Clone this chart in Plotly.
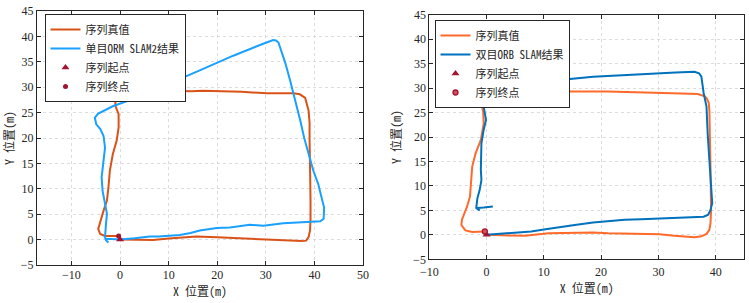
import plotly.graph_objects as go

# ---------------- data ----------------
# Left: ground truth
gt_l_x = [0, 3, 6.8, 10, 13, 15.7, 20, 23.3, 27, 30.2, 33, 35.7, 37.4, 38.3, 38.8, 39.1, 39.2, 39.2, 39.1, 39.1,
          39.0, 39.0, 38.8, 38.1, 37.0, 35.7, 33, 30.2, 25, 19.9, 17, 14.7, 12.3, 9.6, 6, 2.7, 0.0, -0.7,
          -1.0, -0.95, -0.3, -0.3, -0.7, -1.5, -2.1, -2.4, -2.7, -3.4, -4.1, -4.5, -4.1, -3.1, -2.0, -0.8, -0.3]
gt_l_y = [0, -0.05, -0.1, 0.2, 0.4, 0.6, 0.45, 0.3, 0.2, 0.1, 0.0, -0.2, -0.3, -0.2, 0.5, 1.8, 4, 7.7, 11, 14.2,
          19.5, 23, 25.4, 27.9, 28.6, 28.8, 28.8, 28.8, 29.1, 29.3, 29.3, 29.2, 29.3, 29.3, 29.3, 29.3, 29.3, 29.0,
          28.0, 26.3, 24.7, 22.1, 19.5, 16.8, 13.6, 10.3, 7.7, 5.7, 3.7, 2.1, 1.1, 0.7, 0.7, 0.7, 0.7]
# Left: monocular ORB SLAM2
mono_x = [-3.0, -1.5, 0, 3, 6.1, 8, 10.2, 12.3, 14.5, 16.4, 19.9, 22.6, 26.7, 29.5, 33.6, 36, 38.4, 40.3, 41.2,
          41.9, 42.0, 41.5, 40.8, 39.8, 38.8, 37.9, 37.1, 36.2, 35.0, 34.0, 32.9, 32.6, 32.1, 31.5, 28.8, 23.3,
          16.4, 12.3, 9.6, 5.4, 2.8, -1.4, -4.5, -5.2, -4.9, -4.1, -3.4, -3.1, -3.4, -3.8, -3.6, -3.1, -2.7,
          -2.9, -3.1, -2.9, -2.4]
mono_y = [0.15, 0.05, 0, 0.25, 0.6, 0.6, 0.8, 0.9, 1.3, 1.8, 2.3, 2.4, 2.9, 2.75, 3.2, 3.3, 3.4, 3.5, 3.6,
          4.1, 6.3, 8.2, 10.9, 13.5, 16.8, 20, 23.4, 27, 31.3, 34.8, 38.1, 38.8, 39.2, 39.3, 38.3, 36.2,
          33.3, 31.6, 30.6, 28.9, 27.7, 26.3, 24.8, 24.0, 22.7, 21.8, 20.4, 18.1, 14.9, 12.2, 9.6, 7.0, 5.1,
          3.1, 0.45, -0.1, -0.6]
# Right: ground truth
gt_r_x = [0, 3.8, 6.7, 10.8, 12.8, 15.4, 18.6, 21.2, 27, 30.2, 32.8, 36.3, 37.5, 38.4, 38.9, 39.1, 39.2, 39.2,
          39.1, 39.0, 39.0, 38.9, 38.8, 38.5, 38.1, 37.2, 36.9, 34, 30.2, 27, 21.2, 14.2, 8.4, 3.8, 0.4, -0.8,
          -1.0, -0.6, -0.5, -1.0, -1.9, -2.5, -2.7, -2.9, -3.4, -4.3, -4.4, -3.7, -2.5, -0.5, -0.3]
gt_r_y = [0, -0.1, -0.2, 0.3, 0.35, 0.5, 0.5, 0.3, 0.1, 0.1, -0.2, -0.5, -0.3, 0.2, 1.0, 2.4, 5, 8.5,
          13.9, 19.4, 22.1, 25.5, 26.9, 27.8, 28.3, 28.7, 28.8, 28.9, 29.0, 29.1, 29.3, 29.3, 29.3, 29.4, 29.3, 28.6,
          27.2, 25.2, 22.8, 19.4, 16.7, 14.0, 11.2, 7.8, 5.8, 3.1, 2.0, 0.9, 0.6, 0.6, 0.7]
# Right: stereo ORB SLAM
st_x = [0, 3.8, 7.8, 10, 12.6, 15.4, 18.6, 21, 24.1, 27, 30.1, 33, 35.8, 37.9, 38.7, 39.1, 39.4, 39.3, 39.2,
        38.9, 38.6, 38.4, 37.9, 37.6, 37.5, 37.1, 36.3, 33, 30.1, 25, 21.2, 18.6, 15, 12.6, 9, 6.7, 3, 0.5,
        -0.3, -1.2, -1.3, -0.9, -0.5, -0.1, -0.5, -0.9, -1.0, -1.0, -0.9, -1.2, -1.6, -1.8, -1.2, -1.6, -0.5, 1.1]
st_y = [0, 0.3, 0.7, 1.1, 1.6, 2.0, 2.5, 2.8, 3.1, 3.2, 3.35, 3.5, 3.7, 3.7, 4.1, 5.1, 6.5, 8, 9.9,
        15.3, 20.8, 26.2, 29, 31, 32.4, 33, 33.35, 33.2, 33, 32.8, 32.5, 32.3, 31.9, 31.6, 31.3, 31, 30.7, 30.5,
        30.4, 30.2, 29, 27.9, 26.2, 23.5, 21.5, 18.7, 16, 13.3, 11.2, 9.2, 7.5, 5.5, 5.0, 5.5, 5.6, 5.8]

start_pt = ([0], [0])
end_pt = ([-0.3], [0.7])

names_left = ["序列真值", "单目ORM SLAM2结果", "序列起点", "序列终点"]
names_right = ["序列真值", "双目ORB SLAM结果", "序列起点", "序列终点"]

# ---------------- figure ----------------
FONT = "Noto Sans Mono CJK SC, Noto Sans CJK SC, Liberation Mono, monospace"
TICKFONT = "Liberation Serif, serif"
MARK = "#A2142F"
INK = "#262626"

fig = go.Figure()
fig.add_trace(go.Scatter(x=gt_l_x, y=gt_l_y, mode="lines", name=names_left[0],
                         line=dict(color="#D95319", width=2), xaxis="x", yaxis="y", legend="legend"))
fig.add_trace(go.Scatter(x=mono_x, y=mono_y, mode="lines", name=names_left[1],
                         line=dict(color="#1AA0FF", width=2), xaxis="x", yaxis="y", legend="legend"))
fig.add_trace(go.Scatter(x=start_pt[0], y=start_pt[1], mode="markers", name=names_left[2],
                         marker=dict(symbol="triangle-up", color=MARK, size=7), xaxis="x", yaxis="y", legend="legend"))
fig.add_trace(go.Scatter(x=end_pt[0], y=end_pt[1], mode="markers", name=names_left[3],
                         marker=dict(symbol="circle", color=MARK, size=5), xaxis="x", yaxis="y", legend="legend"))

fig.add_trace(go.Scatter(x=gt_r_x, y=gt_r_y, mode="lines", name=names_right[0],
                         line=dict(color="#FF6A2A", width=2), xaxis="x2", yaxis="y2", legend="legend2"))
fig.add_trace(go.Scatter(x=st_x, y=st_y, mode="lines", name=names_right[1],
                         line=dict(color="#0072BD", width=2), xaxis="x2", yaxis="y2", legend="legend2"))
fig.add_trace(go.Scatter(x=start_pt[0], y=start_pt[1], mode="markers", name=names_right[2],
                         marker=dict(symbol="triangle-up", color=MARK, size=7), xaxis="x2", yaxis="y2", legend="legend2"))
fig.add_trace(go.Scatter(x=end_pt[0], y=end_pt[1], mode="markers", name=names_right[3],
                         marker=dict(symbol="circle", color="#D0505F", size=5, line=dict(color=MARK, width=1.3)),
                         xaxis="x2", yaxis="y2", legend="legend2"))

W, H = 749, 303

def ax(domain, rng, dtick, title, anchor, standoff, lblshift):
    return dict(domain=domain, range=rng, dtick=dtick, tick0=0, anchor=anchor, automargin=False,
                showline=True, linecolor=INK, linewidth=1, mirror="ticks",
                ticks="inside", ticklen=4, tickcolor=INK, ticklabelstandoff=lblshift,
                showgrid=True, gridcolor="#DCDCDC", griddash="dot", gridwidth=1,
                zeroline=False, tickfont=dict(family=TICKFONT, size=12, color=INK),
                title=dict(text=title, font=dict(family=FONT, size=12, color=INK), standoff=standoff))

fig.update_layout(
    width=W, height=H, margin=dict(l=0, r=0, t=0, b=0),
    paper_bgcolor="white", plot_bgcolor="white",
    xaxis=ax([37/W, 363/W], [-17.1, 50], 10, "X 位置(m)", "y", 2, -1),
    yaxis=ax([38/H, 292/H], [-5, 45], 5, "Y 位置(m)", "x", 6, 0),
    xaxis2=ax([429.3/W, 744.3/W], [-10, 45], 10, "X 位置(m)", "y2", 1, 1),
    yaxis2=ax([43.7/H, 288.3/H], [-5, 45], 5, "Y 位置(m)", "x2", 8, 0),
    legend=dict(x=44.5/W, y=1 - 14/H, xanchor="left", yanchor="top", bgcolor="white",
                bordercolor=INK, borderwidth=1, font=dict(family=FONT, size=11, color=INK),
                tracegroupgap=0, itemwidth=30),
    legend2=dict(x=434.5/W, y=1 - 20/H, xanchor="left", yanchor="top", bgcolor="white",
                 bordercolor=INK, borderwidth=1, font=dict(family=FONT, size=11, color=INK),
                 tracegroupgap=0, itemwidth=30),
    showlegend=True,
)

fig.write_html("out.html", config={"displayModeBar": False},
               post_script="document.body.style.margin='0';document.body.style.padding='0';")
